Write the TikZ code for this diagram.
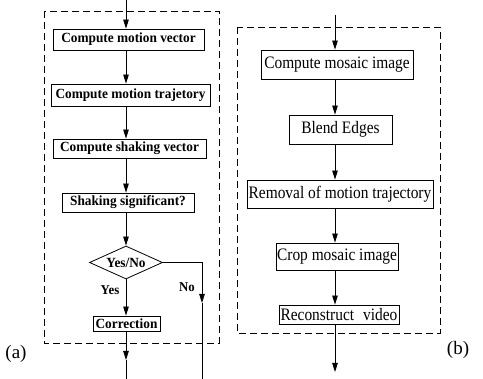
\documentclass[tikz,border=0pt]{standalone}
\usepackage{fontspec}
\setmainfont{Liberation Serif}
\newfontfamily\rfont[FakeStretch=0.88]{Liberation Serif}
\newfontfamily\lfont[FakeStretch=0.95]{Liberation Serif}
\usetikzlibrary{arrows.meta,shapes.geometric}
\begin{document}
\begin{tikzpicture}[x=1pt,y=-1pt,
  lbox/.style={draw,line width=0.8pt,inner sep=0pt,font=\lfont\fontsize{14}{16}\selectfont\bfseries},
  rbox/.style={draw,line width=0.8pt,inner sep=0pt,font=\rfont\fontsize{17.5}{19}\selectfont},
  frame/.style={draw,dash pattern=on 7pt off 4pt,line width=0.8pt},
  conn/.style={line width=0.8pt},
  arr/.style={conn,-{Triangle[length=9pt,width=5.5pt]}},
  lbl/.style={font=\lfont\fontsize{13.5}{15}\selectfont\bfseries,inner sep=0pt},
  tag/.style={font=\fontsize{19}{21}\selectfont,inner sep=0pt}]
\useasboundingbox (0,0) rectangle (483,379);
% frames
\draw[frame] (44,11) rectangle (219,343);
\draw[frame] (237,27) rectangle (440,333);
% left panel
\node[lbox,minimum width=151pt,minimum height=21pt] (b1) at (128.5,39.5) {Compute motion vector};
\node[lbox,minimum width=159pt,minimum height=22pt] (b2) at (130.5,95) {Compute motion trajetory};
\node[lbox,minimum width=153pt,minimum height=19pt] (b3) at (129.5,148.5) {Compute shaking vector};
\node[lbox,minimum width=132pt,minimum height=19pt] (b4) at (128,202.5) {Shaking significant?};
\node[lbox,diamond,aspect=2.2,minimum width=73pt,minimum height=33pt] (d) at (126,262.5) {Yes/No};
\node[lbox,minimum width=67pt,minimum height=15pt] (corr) at (126.5,323.5) {Correction};
\node[lbl] (yes) at (110,290) {Yes};
\node[lbl] (no) at (187,287) {No};
\coordinate (ls) at (126,0);
\coordinate (lm) at (126,360);
\coordinate (lb) at (126,379);
\coordinate (nm) at (202,303);
\coordinate (nb) at (202,379);
\draw[arr] (ls) -- (ls |- b1.north);
\draw[arr] (b1.south -| ls) -- (b2.north -| ls);
\draw[arr] (b2.south -| ls) -- (b3.north -| ls);
\draw[arr] (b3.south -| ls) -- (b4.north -| ls);
\draw[arr] (b4.south -| ls) -- (d.north);
\draw[arr] (d.south) -- (corr.north -| d.south);
\draw[arr] (corr.south -| ls) -- (lm);
\draw[conn] (lm) -- (lb);
\draw[arr] (d.east) -| (nm);
\draw[conn] (nm) -- (nb);
% right panel
\node[rbox,minimum width=152pt,minimum height=29pt] (r1) at (337,64.5) {Compute mosaic image};
\node[rbox,minimum width=103pt,minimum height=29pt] (r2) at (340.5,129.5) {Blend Edges};
\node[rbox,minimum width=186pt,minimum height=28pt] (r3) at (340,194) {Removal of motion trajectory};
\node[rbox,minimum width=122pt,minimum height=27pt] (r4) at (337,256.5) {Crop mosaic image};
\node[rbox,minimum width=120pt,minimum height=19pt] (r5) at (339,314.5) {Reconstruct\hspace{0.3em} video};
\coordinate (rt) at (335,15);
\coordinate (rb) at (335,372);
\draw[arr] (rt) -- (rt |- r1.north);
\draw[arr] (r1.south -| rt) -- (r2.north -| rt);
\draw[arr] (r2.south -| rt) -- (r3.north -| rt);
\draw[arr] (r3.south -| rt) -- (r4.north -| rt);
\draw[arr] (r4.south -| rt) -- (r5.north -| rt);
\draw[arr] (r5.south -| rt) -- (rb);
% tags
\node[tag] (ta) at (16,354) {(a)};
\node[tag] (tb) at (458,350) {(b)};
\end{tikzpicture}
\end{document}
